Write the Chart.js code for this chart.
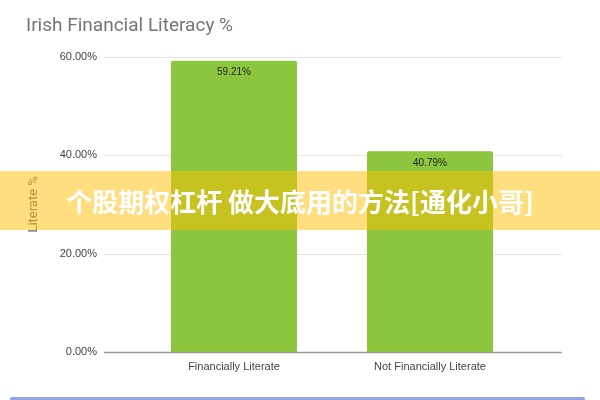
<!DOCTYPE html>
<html>
<head>
<meta charset="utf-8">
<script src="https://cdn.jsdelivr.net/npm/chart.js@4"></script>
<style>
    html, body { margin: 0; padding: 0; background: #fff; }
    #wrap { position: relative; width: 600px; height: 400px; overflow: hidden; }
    #chart { position: absolute; left: 0; top: 0; }
    .banner {
        position: absolute; left: 0; top: 171px; width: 600px; height: 59px;
        background: rgba(255, 190, 0, 0.5);
        color: #fff; font-family: "Noto Sans CJK SC", sans-serif; font-weight: bold;
        font-size: 26px; line-height: 59px; text-align: center;
    }
    .footer-bar {
        position: absolute; left: 10px; top: 397px; width: 575px; height: 6px;
        background: #8fa6e0; border-radius: 2px;
    }
</style>
</head>
<body>
<div id="wrap">
    <canvas id="chart" width="600" height="400"></canvas>
    <div class="banner">个股期权杠杆 做大底用的方法[通化小哥]</div>
    <div class="footer-bar"></div>
</div>
<script>
// data
const categories = ["Financially Literate", "Not Financially Literate"];
const literacyValues = [59.21, 40.79];
const yTicks = [0, 20, 40, 60];

// gridlines stretch past the bars on both sides, like the original
const wideGrid = {
    id: 'wideGrid',
    beforeDatasetsDraw(chart) {
        const ctx = chart.ctx;
        const area = chart.chartArea;
        const y = chart.scales.y;
        ctx.save();
        yTicks.forEach(t => {
            const py = Math.round(y.getPixelForValue(t)) + 0.5;
            ctx.beginPath();
            ctx.strokeStyle = t === 0 ? '#9a9a9a' : '#e4e4e4';
            ctx.lineWidth = t === 0 ? 1.5 : 1;
            ctx.moveTo(area.left - 32, py);
            ctx.lineTo(area.right + 34, py);
            ctx.stroke();
        });
        ctx.restore();
    }
};

// value labels just inside the top of each bar
const barLabels = {
    id: 'barLabels',
    afterDatasetsDraw(chart) {
        const ctx = chart.ctx;
        const meta = chart.getDatasetMeta(0);
        ctx.save();
        ctx.font = '10px "Liberation Sans", Arial, sans-serif';
        ctx.fillStyle = '#222';
        ctx.textAlign = 'center';
        ctx.textBaseline = 'middle';
        meta.data.forEach((bar, i) => {
            ctx.fillText(literacyValues[i].toFixed(2) + '%', bar.x, bar.y + 12);
        });
        ctx.restore();
    }
};

const chartCanvas = document.getElementById('chart');
const literacyChart = new Chart(chartCanvas, {
    type: 'bar',
    data: {
        labels: categories,
        datasets: [{
            data: literacyValues,
            backgroundColor: '#8cc63e',
            borderRadius: 2,
            borderSkipped: 'bottom',
            categoryPercentage: 1,
            barPercentage: 0.643
        }]
    },
    options: {
        responsive: false,
        animation: false,
        layout: {
            padding: { left: 26, right: 72, top: 0, bottom: 0 }
        },
        plugins: {
            legend: { display: false },
            tooltip: { enabled: false },
            title: {
                display: true,
                text: 'Irish Financial Literacy %',
                align: 'start',
                color: '#757575',
                font: { family: 'Roboto, "Liberation Sans", sans-serif', size: 19, weight: 'normal' },
                padding: { top: 15, bottom: 19 }
            }
        },
        scales: {
            x: {
                grid: { display: false, drawTicks: false },
                border: { display: false },
                afterFit: scale => {
                    scale.height = 48;
                },
                ticks: {
                    color: '#444',
                    padding: 8,
                    font: { family: '"Liberation Sans", Arial, sans-serif', size: 11 }
                }
            },
            y: {
                min: 0,
                max: 60,
                grid: { display: false },
                border: { display: false },
                afterBuildTicks: scale => {
                    scale.ticks = yTicks.map(v => ({ value: v }));
                },
                afterFit: scale => {
                    scale.width = 110;
                },
                ticks: {
                    color: '#444',
                    padding: 31,
                    callback: v => v.toFixed(2) + '%',
                    font: { family: '"Liberation Sans", Arial, sans-serif', size: 11 }
                },
                title: {
                    display: true,
                    text: 'Literate %',
                    color: '#666',
                    padding: { top: 0, bottom: 0 },
                    font: { family: 'Roboto, "Liberation Sans", sans-serif', size: 13 }
                }
            }
        }
    },
    plugins: [wideGrid, barLabels]
});
</script>
</body>
</html>
